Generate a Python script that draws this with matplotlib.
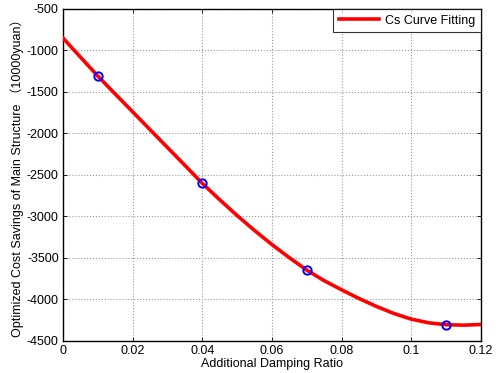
import matplotlib
matplotlib.use("Agg")
import matplotlib.pyplot as plt

# Fitted curve
curve_x = [0.0, 0.005, 0.01, 0.015, 0.02, 0.025, 0.03, 0.035, 0.04, 0.045,
           0.05, 0.055, 0.06, 0.065, 0.07, 0.075, 0.08, 0.085, 0.09, 0.095,
           0.10, 0.105, 0.11, 0.115, 0.12]
curve_y = [-850, -1080, -1309, -1525, -1740, -1955, -2170, -2385, -2602, -2800,
           -2990, -3170, -3340, -3498, -3648, -3775, -3885, -3990, -4085, -4170,
           -4238, -4282, -4305, -4310, -4302]

# Sample points (blue circles)
pts_x = [0.01, 0.04, 0.07, 0.11]
pts_y = [-1309, -2602, -3648, -4309]

xticks = [0, 0.02, 0.04, 0.06, 0.08, 0.1, 0.12]
xticklabels = ["0", "0.02", "0.04", "0.06", "0.08", "0.1", "0.12"]
yticks = [-4500, -4000, -3500, -3000, -2500, -2000, -1500, -1000, -500]

plt.rcParams['font.family'] = ['Liberation Sans', 'Noto Sans CJK SC', 'DejaVu Sans']
plt.rcParams['axes.unicode_minus'] = False

fig = plt.figure(figsize=(4.96, 3.73), dpi=100)
ax = fig.add_axes([0.127, 0.086, 0.843, 0.89])

ax.plot(curve_x, curve_y, color='#ff0000', lw=2.6, label='Cs Curve Fitting', zorder=3)
ax.plot(pts_x, pts_y, linestyle='none', marker='o', markersize=6,
        markerfacecolor='none', markeredgecolor='#0000ff', markeredgewidth=1.4, zorder=4)

ax.set_xlim(0, 0.12)
ax.set_ylim(-4500, -500)
ax.set_xticks(xticks)
ax.set_xticklabels(xticklabels)
ax.set_yticks(yticks)
ax.tick_params(direction='in', top=True, right=True, labelsize=9, length=3, width=0.6, pad=3)
ax.grid(True, color='#999999', linestyle=':', linewidth=0.8)
for s in ax.spines.values():
    s.set_linewidth(1.0)
    s.set_color('black')

ax.set_xlabel('Additional Damping Ratio', fontsize=9, labelpad=1)
ax.set_ylabel('Optimized Cost Savings of Main Structure （10000yuan）', fontsize=9, labelpad=2)

leg = ax.legend(loc='upper right', fontsize=9, frameon=True, fancybox=False,
                borderaxespad=0, handlelength=3.2, borderpad=0.45, handletextpad=0.5)
leg.get_frame().set_edgecolor('black')
leg.get_frame().set_linewidth(0.8)

fig.savefig('out.png', dpi=100)
